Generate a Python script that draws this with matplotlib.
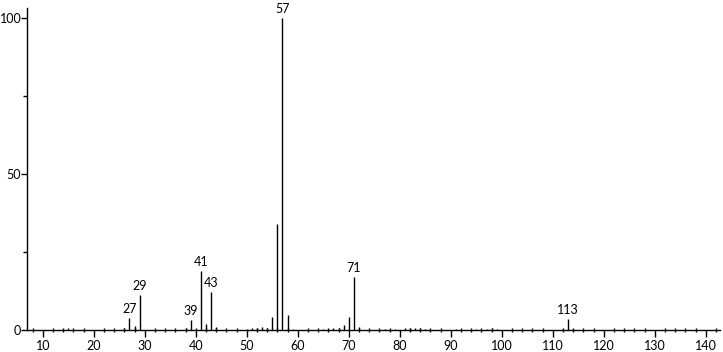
import matplotlib
matplotlib.use("Agg")
import matplotlib.pyplot as plt
from matplotlib.ticker import MultipleLocator

# m/z and relative intensity
mz = [14, 15, 26, 27, 28, 29, 38, 39, 40, 41, 42, 43, 44,
      50, 51, 52, 53, 54, 55, 56, 57, 58, 59,
      65, 67, 68, 69, 70, 71, 72,
      77, 79, 81, 82, 83, 84, 85,
      91, 95, 97, 98, 99, 112, 113, 114]
intensity = [0.4, 0.6, 0.8, 3.8, 1.4, 11.2, 0.5, 3.2, 0.8, 19.0, 2.0, 12.2, 1.0,
             0.3, 0.5, 0.6, 0.9, 0.7, 4.2, 34.0, 100.0, 4.8, 0.3,
             0.3, 0.5, 0.6, 1.5, 4.2, 17.0, 1.0,
             0.4, 0.3, 0.5, 0.5, 0.8, 0.5, 0.3,
             0.3, 0.3, 0.4, 0.5, 0.3, 0.4, 3.4, 0.4]

# peaks that carry a label
labeled = [27, 29, 39, 41, 43, 57, 71, 113]

plt.rcParams['font.family'] = ['Lato', 'DejaVu Sans']

fig = plt.figure(figsize=(7.23, 3.52), dpi=100)
ax = fig.add_axes([0.038, 0.0625, 0.958, 0.915])

ax.vlines(mz, 0, intensity, color='black', lw=1)
for m, i in zip(mz, intensity):
    if m in labeled:
        ax.text(m, i + 1.0, str(m), ha='center', va='bottom', fontsize=9)

ax.set_xlim(7.0, 142.8)
ax.set_ylim(0, 103.2)

ax.xaxis.set_major_locator(MultipleLocator(10))
ax.xaxis.set_minor_locator(MultipleLocator(2))
ax.yaxis.set_major_locator(MultipleLocator(50))
ax.yaxis.set_minor_locator(MultipleLocator(25))

ax.tick_params(axis='x', which='major', direction='out', length=5, width=1,
               labelsize=9, pad=2)
ax.tick_params(axis='x', which='minor', direction='inout', length=3, width=1)
ax.tick_params(axis='y', which='major', direction='out', length=4, width=1,
               labelsize=9, pad=0.5)
ax.tick_params(axis='y', which='minor', direction='out', length=3, width=1)

for s in ['top', 'right']:
    ax.spines[s].set_visible(False)
for s in ['left', 'bottom']:
    ax.spines[s].set_linewidth(1)

fig.savefig("out.png", dpi=100)
